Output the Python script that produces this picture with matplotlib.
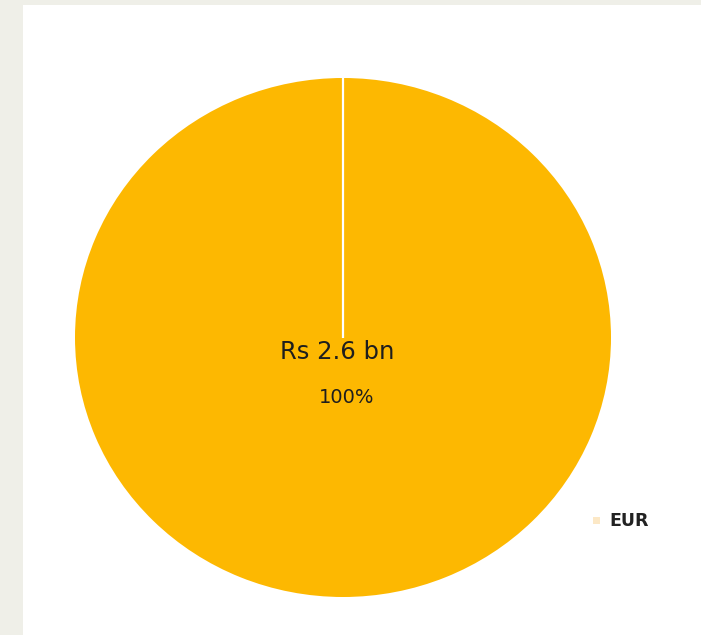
import matplotlib
matplotlib.use("Agg")
import matplotlib.pyplot as plt
from matplotlib.patches import Rectangle

categories = ["EUR"]
values = [2.6]
shares = ["100%"]
center_label = "Rs 2.6 bn"
slice_color = "#FDB801"
legend_color = "#FCE8C6"

W, H = 701, 635
fig = plt.figure(figsize=(W / 100, H / 100), dpi=100)
fig.patch.set_facecolor("#EFEFE8")
fig.add_artist(Rectangle((23 / W, 0), (W - 23) / W, (H - 5) / H,
                         transform=fig.transFigure, facecolor="white",
                         edgecolor="none", zorder=0))

# pie axes (slightly elliptical as in reference)
l, r, t, b = 75, 611, 78, 597
ax = fig.add_axes([l / W, (H - b) / H, (r - l) / W, (b - t) / H])
ax.pie(values, colors=[slice_color], startangle=90, counterclock=False,
       wedgeprops=dict(edgecolor="none"))
ax.set_aspect("auto")
ax.set_xlim(-1, 1)
ax.set_ylim(-1, 1)
ax.axis("off")
ax.plot([0, 0], [0, 1], color="white", lw=1.6, solid_capstyle="butt")

ax.text(-0.022, -0.055, center_label, ha="center", va="center", fontsize=17.5,
        color="#1E1E1E")
ax.text(0.012, -0.232, shares[0], ha="center", va="center", fontsize=14,
        color="#1E1E1E")

# legend
fig.add_artist(Rectangle((593 / W, (H - 524) / H), 7 / W, 7 / H,
                         transform=fig.transFigure, facecolor=legend_color,
                         edgecolor="none"))
fig.text(609 / W, (H - 521) / H, categories[0], ha="left", va="center",
         fontsize=12.5, fontweight="bold", color="#222222")

fig.savefig("out.png", dpi=100, facecolor=fig.get_facecolor())
